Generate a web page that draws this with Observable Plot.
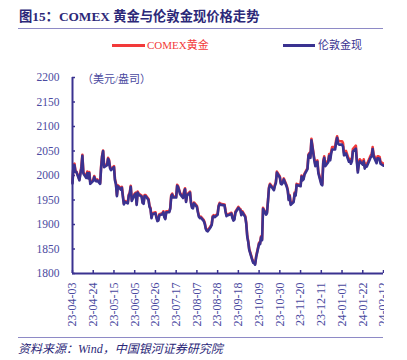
<!DOCTYPE html>
<html>
<head>
<meta charset="utf-8">
<script src="https://cdn.jsdelivr.net/npm/d3@7"></script>
<script src="https://cdn.jsdelivr.net/npm/@observablehq/plot@0.6"></script>
<style>
  html, body { margin: 0; padding: 0; background: #fff; }
  #wrap { position: relative; width: 407px; height: 360px; overflow: hidden; background: #fff;
          font-family: "Liberation Serif", "Noto Sans CJK SC", serif; }
  .abs { position: absolute; white-space: nowrap; }
  #title { left: 19px; top: 6px; font-size: 13.3px; font-weight: bold; color: #2c2878; }
  .rule { position: absolute; left: 18px; width: 365px; height: 1px; background: #8e8ac6; }
  .lg { font-size: 11px; line-height: 14px; }
  .lgline { position: absolute; height: 2.5px; }
  #unit { left: 82px; top: 70px; font-size: 11px; color: #4b4aa0; }
  #chart { position: absolute; left: 0; top: 60px; width: 384px; height: 270px; overflow: hidden; }
  #caption { left: 18px; top: 339px; font-size: 12px; font-style: italic; color: #2c2878; }
</style>
</head>
<body>
<div id="wrap">
  <div id="title" class="abs">图15：COMEX 黄金与伦敦金现价格走势</div>
  <div class="rule" style="top:28px"></div>
  <div class="lgline" style="left:112px; top:44px; width:33px; background:#f23a3a"></div>
  <div class="abs lg" style="left:147px; top:38px; color:#f23a3a">COMEX黄金</div>
  <div class="lgline" style="left:283px; top:44px; width:32px; background:#3a3290"></div>
  <div class="abs lg" style="left:318px; top:38px; color:#3a3290">伦敦金现</div>
  <div id="unit" class="abs">（美元/盎司）</div>
  <div id="chart"></div>
  <div class="rule" style="top:337px"></div>
  <div id="caption" class="abs">资料来源：Wind，中国银河证券研究院</div>
</div>
<script>
// ---- data (weekdays from 2023-04-03 to 2024-02-12) ----
const startDate = "2023-04-03";
const endDate = "2024-02-12";
const tickLabels = ["23-04-03","23-04-24","23-05-15","23-06-05","23-06-26","23-07-17","23-08-07","23-08-28",
  "23-09-18","23-10-09","23-10-30","23-11-20","23-12-11","24-01-01","24-01-22","24-02-12"];
const yTicks = [1800, 1850, 1900, 1950, 2000, 2050, 2100, 2150, 2200];
const seriesNames = ["COMEX黄金", "伦敦金现"];

const london = [
  // Apr
  1984,2020,2021,2007,2007,1990,2003,2015,2040,2004,1995,2005,1994,2005,1983,1989,1997,1990,1988,1990,
  // May
  1983,2016,2039,2050,2017,2021,2034,2030,2015,2011,2017,1990,1982,1958,1978,1971,1975,1957,1941,1946,1943,1959,1963,
  // Jun
  1977,1948,1961,1963,1940,1965,1961,1957,1944,1942,1958,1958,1950,1936,1932,1913,1921,1923,1914,1907,1908,1919,
  // Jul
  1921,1925,1915,1911,1925,1925,1932,1957,1961,1955,1955,1979,1976,1969,1962,1954,1965,1972,1946,1959,1965,
  // Aug
  1944,1934,1933,1943,1936,1925,1916,1913,1914,1907,1901,1891,1887,1886,1895,1899,1915,1917,1915,1920,1937,1942,1940,
  // Sep
  1940,1939,1926,1917,1919,1919,1922,1913,1908,1910,1924,1934,1931,1930,1919,1925,1915,1901,1875,1864,1848,
  // Oct
  1828,1822,1821,1818,1833,1861,1860,1874,1868,1932,1920,1923,1947,1974,1981,1973,1970,1979,1985,2006,1996,1983,
  // Nov
  1982,1985,1992,1977,1969,1950,1958,1940,1946,1963,1959,1981,1980,1978,1998,1990,1992,2002,2013,2041,2044,2036,
  // Dec
  2072,2030,2019,2026,2028,2005,1982,1980,2027,2036,2019,2027,2040,2031,2045,2053,2053,2067,2077,2065,2063,
  // Jan
  2063,2059,2041,2043,2045,2028,2030,2024,2029,2049,2055,2028,2006,2023,2029,2022,2029,2014,2020,2018,2032,2037,2039,
  // Feb
  2054,2039,2025,2035,2035,2034,2024,2020
];
const comex = [
  // Apr
  1986,2022,2024,2010,2008,1992,2006,2018,2042,2007,1997,2008,1996,2007,1986,1991,1999,1993,1990,1992,
  // May
  1985,2019,2041,2051,2020,2023,2036,2032,2018,2013,2019,1993,1984,1960,1980,1974,1977,1960,1943,1948,1945,1961,1965,
  // Jun
  1979,1951,1963,1965,1942,1967,1963,1959,1946,1944,1960,1960,1952,1938,1934,1915,1923,1925,1916,1909,1910,1921,
  // Jul
  1923,1927,1917,1913,1927,1927,1934,1960,1963,1957,1957,1981,1978,1971,1964,1956,1968,1974,1948,1961,1967,
  // Aug
  1946,1936,1935,1945,1938,1927,1918,1915,1916,1909,1903,1893,1889,1888,1897,1901,1917,1919,1917,1922,1939,1944,1942,
  // Sep
  1942,1941,1928,1919,1921,1921,1924,1915,1910,1912,1926,1936,1933,1932,1921,1927,1917,1903,1877,1866,1850,
  // Oct
  1830,1824,1823,1820,1835,1863,1862,1876,1870,1934,1922,1925,1949,1976,1983,1975,1972,1981,1987,2008,1998,1985,
  // Nov
  1984,1987,1994,1979,1971,1952,1960,1942,1948,1965,1961,1983,1982,1980,2000,1992,1994,2004,2015,2043,2046,2039,
  // Dec
  2075,2033,2022,2029,2031,2008,1985,1983,2030,2039,2023,2031,2044,2035,2049,2058,2058,2072,2080,2072,2070,
  // Jan
  2070,2066,2046,2048,2050,2032,2034,2028,2033,2054,2061,2033,2010,2027,2033,2026,2033,2018,2024,2022,2036,2041,2043,
  // Feb
  2058,2043,2029,2039,2039,2038,2028,2024
];

// ---- build ----
const parseISO = d3.utcParse("%Y-%m-%d");
const parseTick = d3.utcParse("%y-%m-%d");
const fmtTick = d3.utcFormat("%y-%m-%d");
const d0 = parseISO(startDate), d1 = parseISO(endDate);
const dates = d3.utcDay.range(d0, d3.utcDay.offset(d1, 1)).filter(d => d.getUTCDay() !== 0 && d.getUTCDay() !== 6);
const tickDates = tickLabels.map(parseTick);

const rowsComex = dates.map((d, i) => ({date: d, value: comex[i], series: seriesNames[0]}));
const rowsLondon = dates.map((d, i) => ({date: d, value: london[i], series: seriesNames[1]}));

const axisColor = "#3a3290";
const textColor = "#4b4aa0";

const chart = Plot.plot({
  width: 384,
  height: 270,
  marginTop: 17,
  marginBottom: 57,
  marginLeft: 72,
  marginRight: 1,
  x: {type: "utc", domain: [d0, d1]},
  y: {domain: [1800, 2200]},
  style: {fontFamily: "'Liberation Serif', 'Noto Sans CJK SC', serif", fontSize: "11.5px", color: textColor, background: "transparent"},
  marks: [
    Plot.axisY({ticks: yTicks, tickSize: 0, tickPadding: 13, tickFormat: d => String(d), label: null, fill: textColor}),
    Plot.axisY({ticks: yTicks, tickSize: 3, dx: 3, tickFormat: () => "", label: null, stroke: axisColor, strokeWidth: 1.5}),
    Plot.axisX({ticks: tickDates, tickSize: 0, tickRotate: -90, tickPadding: 9, tickFormat: fmtTick, label: null, fill: textColor, fontSize: 12}),
    Plot.axisX({ticks: tickDates, tickSize: 3, dy: -3, tickFormat: () => "", label: null, stroke: axisColor, strokeWidth: 1.5}),
    Plot.lineY(rowsComex, {x: "date", y: "value", stroke: "#f23a3a", strokeWidth: 2.6, curve: "linear"}),
    Plot.lineY(rowsLondon, {x: "date", y: "value", stroke: axisColor, strokeWidth: 2.6, curve: "linear"}),
    Plot.ruleX([d0], {stroke: axisColor, strokeWidth: 2}),
    Plot.ruleY([1800], {stroke: axisColor, strokeWidth: 2})
  ]
});
document.getElementById("chart").appendChild(chart);
</script>
</body>
</html>
